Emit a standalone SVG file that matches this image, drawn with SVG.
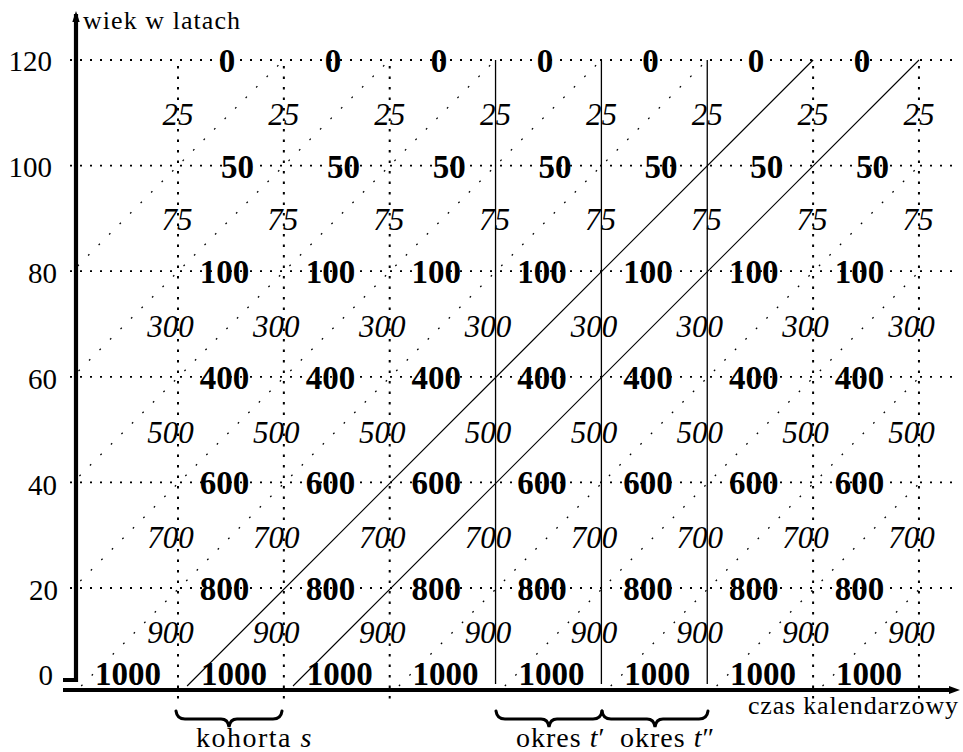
<svg xmlns="http://www.w3.org/2000/svg" width="963" height="752" viewBox="0 0 963 752">
<style>
.hd{stroke:#000;stroke-width:1.8;stroke-dasharray:2 8;fill:none}
.vd{stroke:#000;stroke-width:2;stroke-dasharray:2.4 8.1;fill:none}
.dd{stroke:#000;stroke-width:1.2;stroke-dasharray:1.8 13.05;fill:none}
.sl{stroke:#000;stroke-width:1.3;fill:none}
.sd{stroke:#000;stroke-width:1.1;fill:none}
.b{font-family:"Liberation Serif","Times New Roman",serif;font-weight:bold;font-size:33px;text-anchor:middle;fill:#000}
.i{font-family:"Liberation Serif","Times New Roman",serif;font-style:italic;font-size:31px;text-anchor:middle;fill:#000}
.t{font-family:"Liberation Serif","Times New Roman",serif;font-size:29px;text-anchor:end;fill:#000}
.a{font-family:"Liberation Serif","Times New Roman",serif;font-size:26px;fill:#000}
.br{stroke:#000;stroke-width:3;fill:none;stroke-linecap:round}
</style>
<defs><clipPath id="plot"><rect x="78" y="60" width="844" height="627"/></clipPath></defs>

<g id="grid">
<line class="hd" x1="70" y1="60" x2="956" y2="60"/>
<line class="hd" x1="70" y1="165.6" x2="956" y2="165.6"/>
<line class="hd" x1="70" y1="271.2" x2="956" y2="271.2"/>
<line class="hd" x1="70" y1="376.8" x2="956" y2="376.8"/>
<line class="hd" x1="70" y1="482.4" x2="956" y2="482.4"/>
<line class="hd" x1="70" y1="588" x2="956" y2="588"/>
<line class="vd" x1="178" y1="66" x2="178" y2="699"/>
<line class="vd" x1="283.85" y1="66" x2="283.85" y2="699"/>
<line class="vd" x1="389.7" y1="66" x2="389.7" y2="699"/>
<line class="vd" x1="813.1" y1="66" x2="813.1" y2="699"/>
<line class="vd" x1="918.95" y1="66" x2="918.95" y2="699"/>
</g>

<g id="cohort-dots" clip-path="url(#plot)">
<line class="dd" x1="-342.4" y1="686" x2="283.6" y2="60"/>
<line class="dd" x1="-236.5" y1="686" x2="389.5" y2="60"/>
<line class="dd" x1="-130.6" y1="686" x2="495.4" y2="60"/>
<line class="dd" x1="-24.7" y1="686" x2="601.3" y2="60"/>
<line class="dd" x1="81.2" y1="686" x2="707.2" y2="60"/>
<line class="dd" x1="398.9" y1="686" x2="1024.9" y2="60"/>
<line class="dd" x1="504.8" y1="686" x2="1130.8" y2="60"/>
<line class="dd" x1="610.7" y1="686" x2="1236.7" y2="60"/>
<line class="dd" x1="716.6" y1="686" x2="1342.6" y2="60"/>
<line class="dd" x1="822.5" y1="686" x2="1448.5" y2="60"/>
</g>

<g id="connectors">
<line class="sl" x1="495.55" y1="60" x2="495.55" y2="684"/>
<line class="sl" x1="601.4" y1="60" x2="601.4" y2="684"/>
<line class="sl" x1="707.25" y1="60" x2="707.25" y2="684"/>
<line class="sd" x1="187.1" y1="686" x2="813.1" y2="60"/>
<line class="sd" x1="293" y1="686" x2="919" y2="60"/>
</g>

<g id="axes">
<path d="M63,680 H76 V14" stroke="#000" stroke-width="4.2" fill="none" stroke-linejoin="miter"/>
<polygon points="76,11 72.3,22 79.7,22" fill="#000"/>
<line x1="63" y1="690" x2="952" y2="690" stroke="#000" stroke-width="4.2"/>
<polygon points="960,690 949,686 949,694" fill="#000"/>
<text class="a" x="83" y="29" textLength="157" lengthAdjust="spacing">wiek w latach</text>
<text class="a" x="748" y="714" textLength="210" lengthAdjust="spacing">czas kalendarzowy</text>
<text class="t" x="52" y="71">120</text>
<text class="t" x="52" y="177">100</text>
<text class="t" x="57" y="283">80</text>
<text class="t" x="57" y="389">60</text>
<text class="t" x="57" y="495">40</text>
<text class="t" x="58" y="600">20</text>
<text class="t" x="53" y="685">0</text>
</g>

<g id="row-0">
<text class="b" x="227" y="72">0</text><text class="b" x="333" y="72">0</text><text class="b" x="439" y="72">0</text><text class="b" x="545" y="72">0</text><text class="b" x="650.5" y="72">0</text><text class="b" x="756" y="72">0</text><text class="b" x="862" y="72">0</text>
</g>
<g id="row-25">
<text class="i" x="178" y="124.5">25</text><text class="i" x="283.85" y="124.5">25</text><text class="i" x="389.7" y="124.5">25</text><text class="i" x="495.55" y="124.5">25</text><text class="i" x="601.4" y="124.5">25</text><text class="i" x="707.25" y="124.5">25</text><text class="i" x="813.1" y="124.5">25</text><text class="i" x="918.95" y="124.5">25</text>
</g>
<g id="row-50">
<text class="b" x="237.5" y="177.6">50</text><text class="b" x="343.4" y="177.6">50</text><text class="b" x="449.2" y="177.6">50</text><text class="b" x="555.1" y="177.6">50</text><text class="b" x="661" y="177.6">50</text><text class="b" x="766.8" y="177.6">50</text><text class="b" x="872.6" y="177.6">50</text>
</g>
<g id="row-75">
<text class="i" x="177" y="230">75</text><text class="i" x="282.85" y="230">75</text><text class="i" x="388.7" y="230">75</text><text class="i" x="494.55" y="230">75</text><text class="i" x="600.4" y="230">75</text><text class="i" x="706.25" y="230">75</text><text class="i" x="812.1" y="230">75</text><text class="i" x="917.95" y="230">75</text>
</g>
<g id="row-100">
<text class="b" x="224.5" y="283.2">100</text><text class="b" x="330.4" y="283.2">100</text><text class="b" x="436.2" y="283.2">100</text><text class="b" x="542.1" y="283.2">100</text><text class="b" x="648" y="283.2">100</text><text class="b" x="753.8" y="283.2">100</text><text class="b" x="859.6" y="283.2">100</text>
</g>
<g id="row-300">
<text class="i" x="170.5" y="336.5">300</text><text class="i" x="276.35" y="336.5">300</text><text class="i" x="382.2" y="336.5">300</text><text class="i" x="488.05" y="336.5">300</text><text class="i" x="593.9" y="336.5">300</text><text class="i" x="699.75" y="336.5">300</text><text class="i" x="805.6" y="336.5">300</text><text class="i" x="911.45" y="336.5">300</text>
</g>
<g id="row-400">
<text class="b" x="224.5" y="388.8">400</text><text class="b" x="330.4" y="388.8">400</text><text class="b" x="436.2" y="388.8">400</text><text class="b" x="542.1" y="388.8">400</text><text class="b" x="648" y="388.8">400</text><text class="b" x="753.8" y="388.8">400</text><text class="b" x="859.6" y="388.8">400</text>
</g>
<g id="row-500">
<text class="i" x="170.5" y="443">500</text><text class="i" x="276.35" y="443">500</text><text class="i" x="382.2" y="443">500</text><text class="i" x="488.05" y="443">500</text><text class="i" x="593.9" y="443">500</text><text class="i" x="699.75" y="443">500</text><text class="i" x="805.6" y="443">500</text><text class="i" x="911.45" y="443">500</text>
</g>
<g id="row-600">
<text class="b" x="224.5" y="494.4">600</text><text class="b" x="330.4" y="494.4">600</text><text class="b" x="436.2" y="494.4">600</text><text class="b" x="542.1" y="494.4">600</text><text class="b" x="648" y="494.4">600</text><text class="b" x="753.8" y="494.4">600</text><text class="b" x="859.6" y="494.4">600</text>
</g>
<g id="row-700">
<text class="i" x="170.5" y="547.5">700</text><text class="i" x="276.35" y="547.5">700</text><text class="i" x="382.2" y="547.5">700</text><text class="i" x="488.05" y="547.5">700</text><text class="i" x="593.9" y="547.5">700</text><text class="i" x="699.75" y="547.5">700</text><text class="i" x="805.6" y="547.5">700</text><text class="i" x="911.45" y="547.5">700</text>
</g>
<g id="row-800">
<text class="b" x="224.5" y="600">800</text><text class="b" x="330.4" y="600">800</text><text class="b" x="436.2" y="600">800</text><text class="b" x="542.1" y="600">800</text><text class="b" x="648" y="600">800</text><text class="b" x="753.8" y="600">800</text><text class="b" x="859.6" y="600">800</text>
</g>
<g id="row-900">
<text class="i" x="170.5" y="643">900</text><text class="i" x="276.35" y="643">900</text><text class="i" x="382.2" y="643">900</text><text class="i" x="488.05" y="643">900</text><text class="i" x="593.9" y="643">900</text><text class="i" x="699.75" y="643">900</text><text class="i" x="805.6" y="643">900</text><text class="i" x="911.45" y="643">900</text>
</g>
<g id="row-1000">
<text class="b" x="128" y="685">1000</text><text class="b" x="233.9" y="685">1000</text><text class="b" x="339.7" y="685">1000</text><text class="b" x="445.6" y="685">1000</text><text class="b" x="551.4" y="685">1000</text><text class="b" x="657.3" y="685">1000</text><text class="b" x="763.1" y="685">1000</text><text class="b" x="869" y="685">1000</text>
</g>

<g id="brace-kohorta">
<path class="br" d="M176,711 Q177,719 185,719 L221,719 Q228,719 229,727 Q230,719 237,719 L273,719 Q281,719 282,711"/>
<text class="a" x="196" y="747" style="font-size:28px;letter-spacing:1.5px">kohorta <tspan font-style="italic">s</tspan></text>
</g>
<g id="brace-okres1">
<path class="br" d="M496,711 Q497,719 505,719 L541,719 Q548,719 549,727 Q550,719 557,719 L593,719 Q601,719 602,711"/>
<text class="a" x="516" y="747" style="font-size:28px;letter-spacing:1px">okres <tspan font-style="italic">t</tspan>′</text>
</g>
<g id="brace-okres2">
<path class="br" d="M602,711 Q603,719 611,719 L647,719 Q654,719 655,727 Q656,719 663,719 L699,719 Q707,719 708,711"/>
<text class="a" x="620" y="747" style="font-size:28px;letter-spacing:1px">okres <tspan font-style="italic">t</tspan>″</text>
</g>
</svg>
